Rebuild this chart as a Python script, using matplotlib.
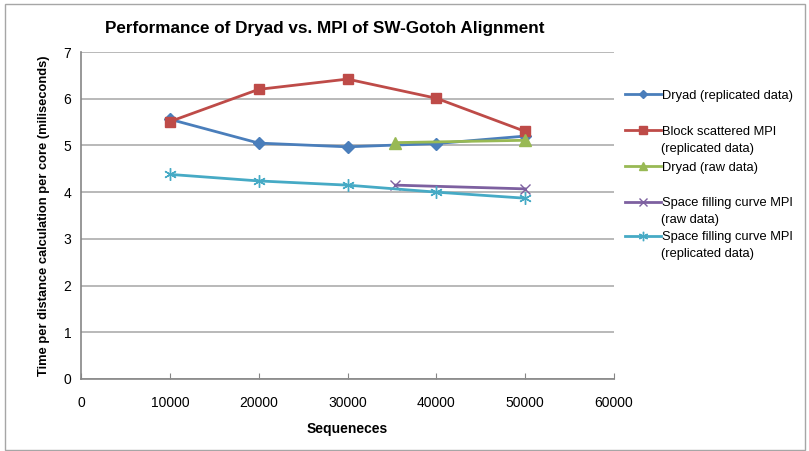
import matplotlib
matplotlib.use("Agg")
import matplotlib.pyplot as plt
from matplotlib.patches import Rectangle

plt.rcParams['font.family'] = ['Liberation Sans', 'DejaVu Sans']

x_main = [10000, 20000, 30000, 40000, 50000]
x_raw = [35400, 50000]
dryad_repl = [5.56, 5.05, 4.97, 5.04, 5.20]
block_mpi_repl = [5.51, 6.20, 6.42, 6.01, 5.30]
dryad_raw = [5.06, 5.11]
sfc_mpi_raw = [4.15, 4.07]
sfc_mpi_repl = [4.38, 4.24, 4.15, 4.00, 3.87]

labels = ["Dryad (replicated data)",
          "Block scattered MPI\n(replicated data)",
          "Dryad (raw data)",
          "Space filling curve MPI\n(raw data)",
          "Space filling curve MPI\n(replicated data)"]

xticks = [0, 10000, 20000, 30000, 40000, 50000, 60000]
yticks = [0, 1, 2, 3, 4, 5, 6, 7]

W, H = 809, 451
fig = plt.figure(figsize=(W / 100, H / 100), dpi=100)
ax = fig.add_axes([81 / W, 1 - 379 / H, (614 - 81) / W, (379 - 52) / H])

styles = [
    dict(color='#4a7ebb', marker='D', ms=6),
    dict(color='#be4b48', marker='s', ms=7.5),
    dict(color='#98b954', marker='^', ms=8),
    dict(color='#7d60a0', marker='x', ms=7, mew=1),
    dict(color='#46aac5', marker=(6, 2, 0), ms=9, mew=1),
]
series = [(x_main, dryad_repl), (x_main, block_mpi_repl), (x_raw, dryad_raw),
          (x_raw, sfc_mpi_raw), (x_main, sfc_mpi_repl)]
lines = []
for (xs, ys), st in zip(series, styles):
    ln, = ax.plot(xs, ys, lw=2.0, **st)
    lines.append(ln)

ax.set_xlim(0, 60000)
ax.set_ylim(0, 7)
ax.set_xticks(xticks)
ax.set_yticks(yticks)
ax.set_xticklabels([str(v) for v in xticks], fontsize=10)
ax.set_yticklabels([str(v) for v in yticks], fontsize=10)
ax.tick_params(axis='x', direction='in', length=4, color='#868686', pad=12)
ax.tick_params(axis='y', length=0, pad=7)
ax.grid(axis='y', color='#b3b3b3', lw=1.3)
ax.set_axisbelow(True)
for s in ['top', 'right']:
    ax.spines[s].set_visible(False)
for s in ['left', 'bottom']:
    ax.spines[s].set_color('#868686')
    ax.spines[s].set_linewidth(1.2)

ax.set_xlabel("Sequeneces", fontsize=10, fontweight='bold', labelpad=9)
ax.set_ylabel("Time per distance calculation per core (miliseconds)", fontsize=9.3,
              fontweight='bold', labelpad=10)
fig.text(325 / W, 1 - 28 / H, "Performance of Dryad vs. MPI of SW-Gotoh Alignment",
         ha='center', va='center', fontsize=12.3, fontweight='bold')

# legend: one entry per block, handle aligned with first line of its label
leg_y = [96, 132, 168, 203, 237]
for ln, lab, y in zip(lines, labels, leg_y):
    parts = lab.split("\n")
    fig.legend([ln], [parts[0]], loc='center left',
               bbox_to_anchor=(625 / W, 1 - y / H), frameon=False,
               fontsize=9.3, handlelength=2.8, handletextpad=0.1,
               borderaxespad=0, borderpad=0, markerscale=0.75)
    if len(parts) > 1:
        fig.text(661 / W, 1 - (y + 16.5) / H, parts[1], ha='left', va='center',
                 fontsize=9.3)

fig.patches.append(Rectangle((5 / W, 1 - 450 / H), (805 - 5) / W, (450 - 4) / H,
                             transform=fig.transFigure, fill=False, ec='#a6a6a6', lw=1))

fig.savefig("out.png", dpi=100)
